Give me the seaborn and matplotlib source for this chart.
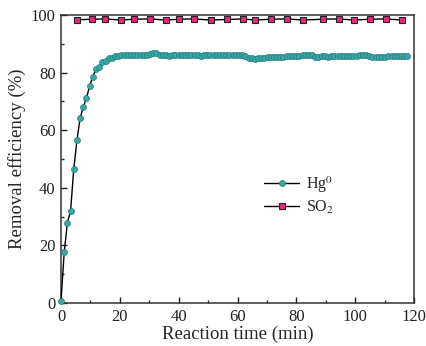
import numpy as np
import pandas as pd
import matplotlib
matplotlib.use("Agg")
import matplotlib.pyplot as plt
import seaborn as sns

# Hg0 removal efficiency (%), sampled about every 1.07 min
hg_values = [
    0.8, 17.8, 27.9, 32.0, 46.6, 56.5, 64.2, 68.0, 71.2, 75.3,
    78.6, 81.2, 82.0, 83.6, 84.0, 85.0, 85.2, 85.8, 85.9, 86.0,
    86.1, 86.1, 86.2, 86.1, 86.1, 86.2, 86.1, 86.1, 86.3, 86.7,
    86.6, 86.0, 86.2, 86.2, 85.9, 86.1, 86.2, 86.1, 86.0, 86.1,
    86.1, 86.0, 86.1, 86.0, 85.9, 86.0, 86.0, 86.1, 86.0, 86.0,
    86.0, 86.1, 86.0, 86.0, 86.1, 86.0, 86.0, 86.1, 85.6, 85.1,
    85.0, 84.8, 84.9, 85.0, 85.2, 85.3, 85.3, 85.4, 85.4, 85.5,
    85.5, 85.6, 85.6, 85.7, 85.8, 85.8, 86.0, 86.2, 86.2, 86.1,
    85.3, 85.5, 85.7, 85.6, 85.5, 85.6, 85.6, 85.7, 85.7, 85.8,
    85.7, 85.6, 85.6, 85.7, 86.0, 86.2, 86.0, 85.6, 85.5, 85.4,
    85.4, 85.5, 85.5, 85.6, 85.6, 85.6, 85.7, 85.8, 85.8, 85.8,
]
hg_time = np.linspace(0, 117.7, len(hg_values))

so2_time = [5.3, 10.6, 15.1, 20.4, 24.8, 30.2, 35.6, 40.1, 45.1, 50.8, 56.4,
            61.7, 66.0, 71.4, 76.9, 82.3, 88.9, 94.3, 99.7, 105.1, 110.5, 116.0]
so2_values = [98.3, 98.5, 98.6, 98.2, 98.5, 98.6, 98.2, 98.5, 98.6, 98.2, 98.4,
              98.6, 98.2, 98.5, 98.6, 98.2, 98.5, 98.6, 98.2, 98.5, 98.6, 98.2]

df_hg = pd.DataFrame({"t": hg_time, "eff": hg_values})
df_so2 = pd.DataFrame({"t": so2_time, "eff": so2_values})

sns.set_style("ticks")
plt.rcParams["font.family"] = ["Liberation Serif", "DejaVu Serif"]
plt.rcParams["mathtext.fontset"] = "stix"

fig = plt.figure(figsize=(4.27, 3.46), dpi=100)
ax = fig.add_axes([0.143, 0.124, 0.827, 0.833])

sns.lineplot(data=df_hg, x="t", y="eff", ax=ax, color="black", lw=1.0,
             marker="o", markersize=4.3, markerfacecolor="#3aa6a6",
             markeredgecolor="#1f7a7a", markeredgewidth=0.5,
             label="Hg$^0$", clip_on=False, zorder=3)
sns.lineplot(data=df_so2, x="t", y="eff", ax=ax, color="black", lw=1.0,
             marker="s", markersize=4.8, markerfacecolor="#e8287c",
             markeredgecolor="#222222", markeredgewidth=0.8,
             label="SO$_2$", zorder=3)

ax.set_xlim(0, 120)
ax.set_ylim(0, 100)
ax.set_xticks(range(0, 121, 20))
ax.set_yticks(range(0, 101, 20))
ax.set_xticks(range(10, 120, 20), minor=True)
ax.set_yticks(range(10, 100, 20), minor=True)
ax.tick_params(which="major", direction="in", length=4, width=1, labelsize=12,
               colors="#222222", pad=4)
ax.tick_params(which="minor", direction="in", length=2.5, width=1)
for s in ax.spines.values():
    s.set_linewidth(1.1)
    s.set_color("#333333")

ax.set_xlabel("Reaction time (min)", fontsize=13.5, labelpad=1)
ax.set_ylabel("Removal efficiency (%)", fontsize=13.5, labelpad=3)

ax.legend(loc="center left", bbox_to_anchor=(0.535, 0.375), frameon=False,
          fontsize=11.5, handlelength=2.2, handletextpad=0.4, labelspacing=0.25)

fig.savefig("out.png", dpi=100)
